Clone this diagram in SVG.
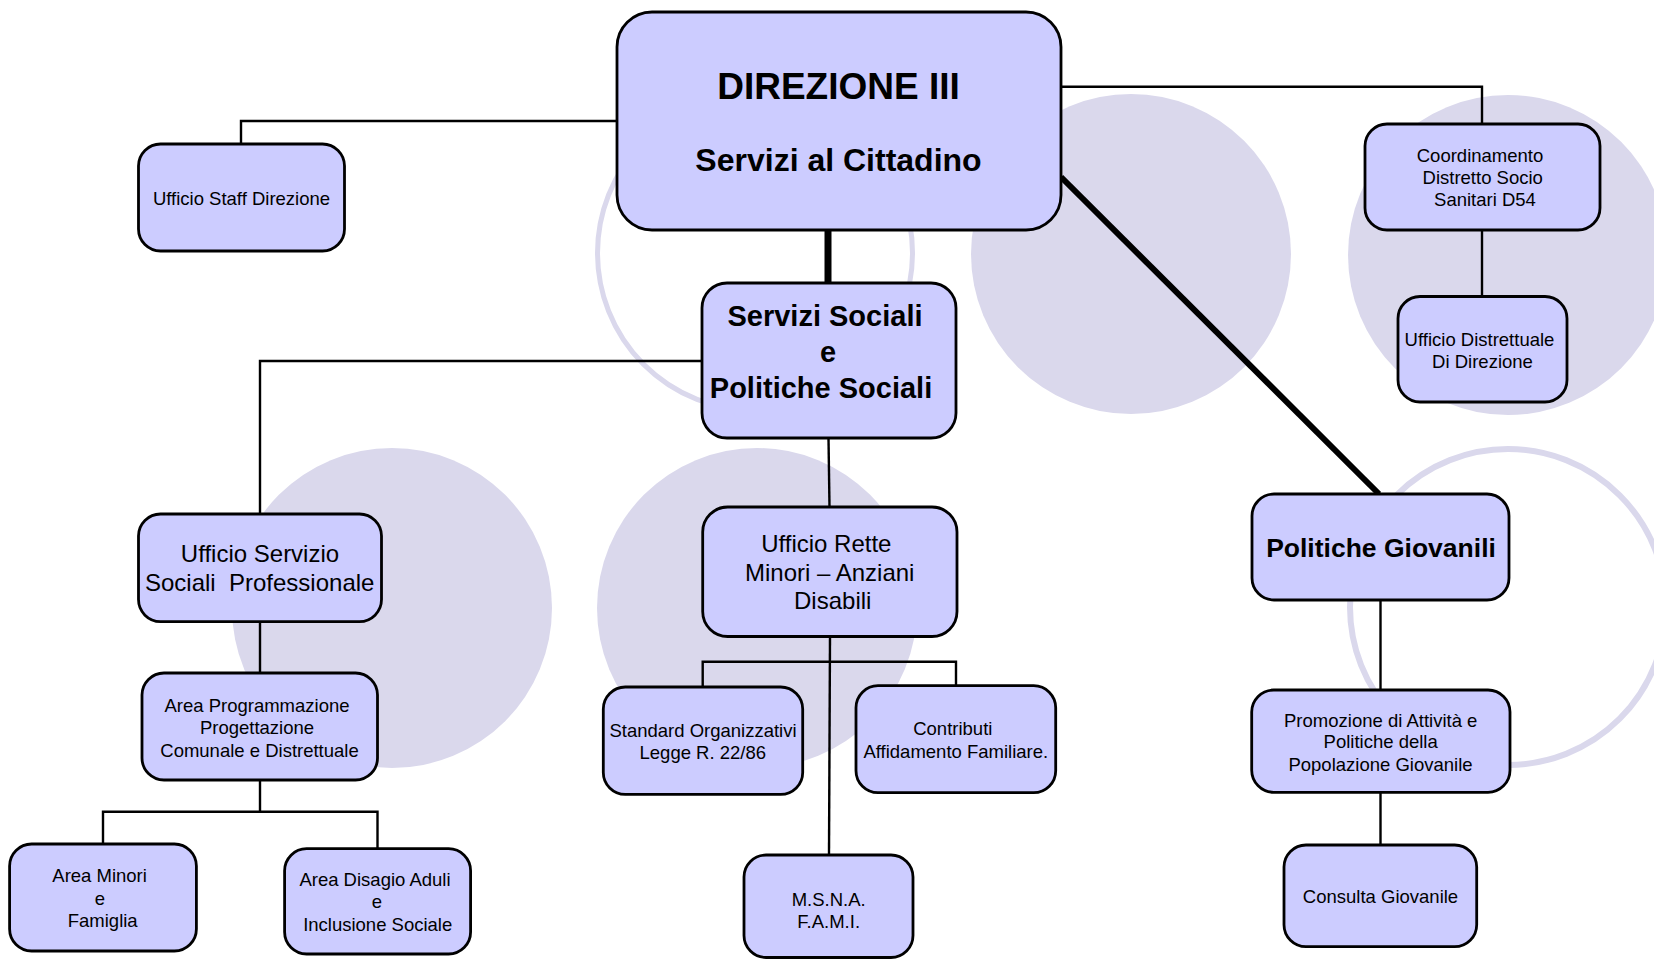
<svg xmlns="http://www.w3.org/2000/svg" width="1654" height="959" viewBox="0 0 1654 959">
<style>
.bg{fill:#FFFFFF}
.disc{fill:#DAD8EC}
.ring{fill:none;stroke:#DAD8EC;stroke-width:6}
.box{fill:#CCCCFF;stroke:#000;stroke-width:2.8}
.ln{fill:none;stroke:#000;stroke-width:2.4}
.thick{fill:none;stroke:#000;stroke-width:7}
text{font-family:"Liberation Sans",Arial,sans-serif;fill:#000;text-anchor:middle}
.s{font-size:18.5px}
.m{font-size:24px}
.b{font-weight:bold}
</style>
<rect class="bg" x="0" y="0" width="1654" height="959"/>
<g id="background">
<circle class="ring" cx="755" cy="253" r="157.5" style="stroke-width:5"/>
<circle class="disc" cx="1131" cy="254" r="160"/>
<circle class="disc" cx="1508" cy="255" r="160"/>
<circle class="disc" cx="392" cy="608" r="160"/>
<circle class="disc" cx="757" cy="608" r="160"/>
<circle class="ring" cx="1508" cy="607" r="158"/>
</g>
<g id="connectors">
<polyline class="ln" points="617,121 241,121 241,144"/>
<line class="thick" x1="828" y1="230" x2="828" y2="283"/>
<polyline class="ln" points="1061,86.7 1482,86.7 1482,124"/>
<line class="thick" x1="1061" y1="177" x2="1379" y2="494" style="stroke-width:6"/>
<polyline class="ln" points="702,361 260,361 260,514"/>
<line class="ln" x1="828.5" y1="438" x2="829.5" y2="507"/>
<line class="ln" x1="260" y1="621.6" x2="260" y2="673"/>
<line class="ln" x1="260" y1="780" x2="260" y2="811.7"/>
<polyline class="ln" points="103,844 103,811.7 377.5,811.7 377.5,848.7"/>
<line class="ln" x1="830" y1="636.5" x2="829" y2="855"/>
<polyline class="ln" points="702.7,687 702.7,661.8 956,661.8 956,685.7"/>
<line class="ln" x1="1482" y1="230" x2="1482" y2="296.5"/>
<line class="ln" x1="1380.5" y1="600" x2="1380.5" y2="690"/>
<line class="ln" x1="1380.5" y1="792" x2="1380.5" y2="845"/>
</g>
<g id="direzione">
<rect class="box" x="617" y="12" width="444" height="218" rx="35"/>
<text class="b" x="838.5" y="99" style="font-size:37px">DIREZIONE III</text>
<text class="b" x="838.5" y="171" style="font-size:32px">Servizi al Cittadino</text>
</g>
<g id="staff">
<rect class="box" x="138.5" y="144" width="206" height="107" rx="22"/>
<text class="s" x="241.5" y="204.5">Ufficio Staff Direzione</text>
</g>
<g id="servizi-sociali">
<rect class="box" x="702" y="283" width="254" height="155" rx="25"/>
<text class="b" x="825" y="326" style="font-size:29px">Servizi Sociali</text>
<text class="b" x="828" y="362" style="font-size:29px">e</text>
<text class="b" x="821" y="398" style="font-size:29px">Politiche Sociali</text>
</g>
<g id="ufficio-servizio">
<rect class="box" x="138.5" y="514" width="243" height="107.6" rx="22"/>
<text class="m" x="260" y="562">Ufficio Servizio</text>
<text class="m" x="259.7" y="591" xml:space="preserve" style="white-space:pre">Sociali  Professionale</text>
</g>
<g id="area-programmazione">
<rect class="box" x="142" y="673" width="235.5" height="107" rx="22"/>
<text class="s" x="257" y="711.7">Area Programmazione</text>
<text class="s" x="257" y="733.8">Progettazione</text>
<text class="s" x="259.5" y="756.7">Comunale e Distrettuale</text>
</g>
<g id="area-minori">
<rect class="box" x="9.6" y="844" width="186.8" height="107" rx="22"/>
<text class="s" x="99.6" y="881.7">Area Minori</text>
<text class="s" x="100" y="905">e</text>
<text class="s" x="102.7" y="926.5">Famiglia</text>
</g>
<g id="area-disagio">
<rect class="box" x="284.6" y="848.7" width="186" height="105.3" rx="22"/>
<text class="s" x="375" y="885.7">Area Disagio Aduli</text>
<text class="s" x="376.8" y="908">e</text>
<text class="s" x="377.7" y="930.7">Inclusione Sociale</text>
</g>
<g id="ufficio-rette">
<rect class="box" x="702.7" y="507" width="254.3" height="129.5" rx="25"/>
<text class="m" x="826.3" y="551.5">Ufficio Rette</text>
<text class="m" x="829.7" y="580.8">Minori – Anziani</text>
<text class="m" x="832.7" y="608.8">Disabili</text>
</g>
<g id="standard">
<rect class="box" x="603.3" y="687" width="199.4" height="107.4" rx="22"/>
<text class="s" x="703" y="737">Standard Organizzativi</text>
<text class="s" x="702.8" y="759">Legge R. 22/86</text>
</g>
<g id="contributi">
<rect class="box" x="856" y="685.7" width="199.7" height="107" rx="22"/>
<text class="s" x="952.8" y="735.3">Contributi</text>
<text class="s" x="955.8" y="758">Affidamento Familiare.</text>
</g>
<g id="msna">
<rect class="box" x="744" y="855" width="169" height="102.5" rx="22"/>
<text class="s" x="828.7" y="905.8">M.S.N.A.</text>
<text class="s" x="828.7" y="927.6">F.A.M.I.</text>
</g>
<g id="coordinamento">
<rect class="box" x="1365" y="124" width="235" height="106" rx="22"/>
<text class="s" x="1480" y="162">Coordinamento</text>
<text class="s" x="1482.7" y="184">Distretto Socio</text>
<text class="s" x="1485" y="206">Sanitari D54</text>
</g>
<g id="ufficio-distrettuale">
<rect class="box" x="1398" y="296.5" width="169" height="105.5" rx="22"/>
<text class="s" x="1479.5" y="345.6">Ufficio Distrettuale</text>
<text class="s" x="1482.5" y="367.6">Di Direzione</text>
</g>
<g id="politiche-giovanili">
<rect class="box" x="1252" y="494" width="257" height="106" rx="22"/>
<text class="b" x="1381" y="557" style="font-size:26.5px">Politiche Giovanili</text>
</g>
<g id="promozione">
<rect class="box" x="1251.7" y="690" width="258.3" height="102.3" rx="22"/>
<text class="s" x="1380.7" y="726.7">Promozione di Attività e</text>
<text class="s" x="1380.7" y="748.3">Politiche della</text>
<text class="s" x="1380.5" y="770.7">Popolazione Giovanile</text>
</g>
<g id="consulta">
<rect class="box" x="1284" y="845" width="192.7" height="101.7" rx="22"/>
<text class="s" x="1380.5" y="902.7">Consulta Giovanile</text>
</g>
</svg>
